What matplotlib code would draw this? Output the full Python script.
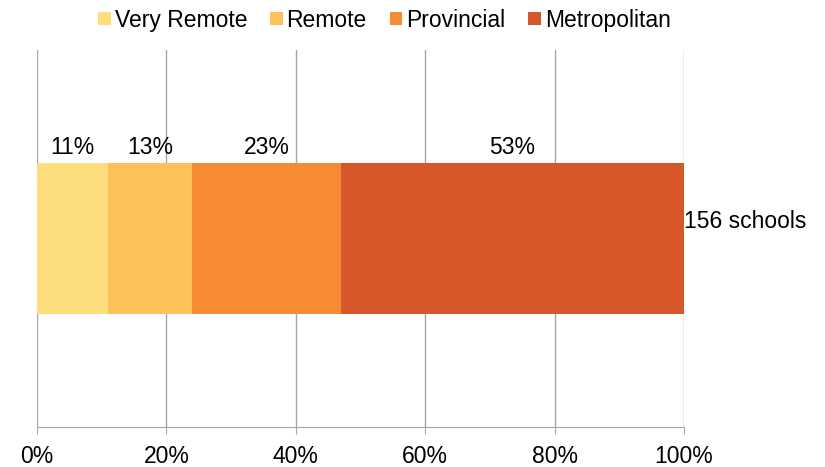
import matplotlib.pyplot as plt
import numpy as np

plt.rcParams['font.family'] = ['Liberation Sans', 'DejaVu Sans']

categories = ['Very Remote', 'Remote', 'Provincial', 'Metropolitan']
shares = [11, 13, 23, 53]
colors = ['#FDDD7C', '#FDC15A', '#F68B33', '#D6582A']
bar_label = '156 schools'
ticks = [0, 20, 40, 60, 80, 100]
tick_labels = ['0%', '20%', '40%', '60%', '80%', '100%']

FS = 16.5

fig = plt.figure(figsize=(8.25, 4.67), dpi=100)
ax = fig.add_axes([0.0448, 0.0857, 0.7842, 0.807])

left = 0
handles = []
for name, val, col in zip(categories, shares, colors):
    h = ax.barh(0, val, left=left, height=0.40, color=col, label=name, zorder=3)
    handles.append(h)
    ax.text(left + val / 2, 0.224, f'{val}%', ha='center', va='baseline', fontsize=FS)
    left += val

ax.text(left, 0.045, bar_label, ha='left', va='center', fontsize=FS)

ax.set_xlim(0, 100)
ax.set_ylim(-0.5, 0.5)
ax.set_xticks(ticks)
ax.set_xticklabels(tick_labels, fontsize=FS)
ax.set_yticks([])
ax.grid(axis='x', color='#A6A6A6', linewidth=1, zorder=0)
for s in ['top', 'right', 'left']:
    ax.spines[s].set_visible(False)
ax.spines['bottom'].set_color('#A6A6A6')
ax.tick_params(axis='x', direction='out', length=5, color='#A6A6A6', pad=8)

fig.legend(handles=handles, loc='center', bbox_to_anchor=(0.466, 0.957), ncol=4,
           frameon=False, fontsize=FS, handlelength=0.55, handleheight=0.55,
           handletextpad=0.17, columnspacing=1.0, borderaxespad=0, borderpad=0)

fig.savefig('out.png', dpi=100)
